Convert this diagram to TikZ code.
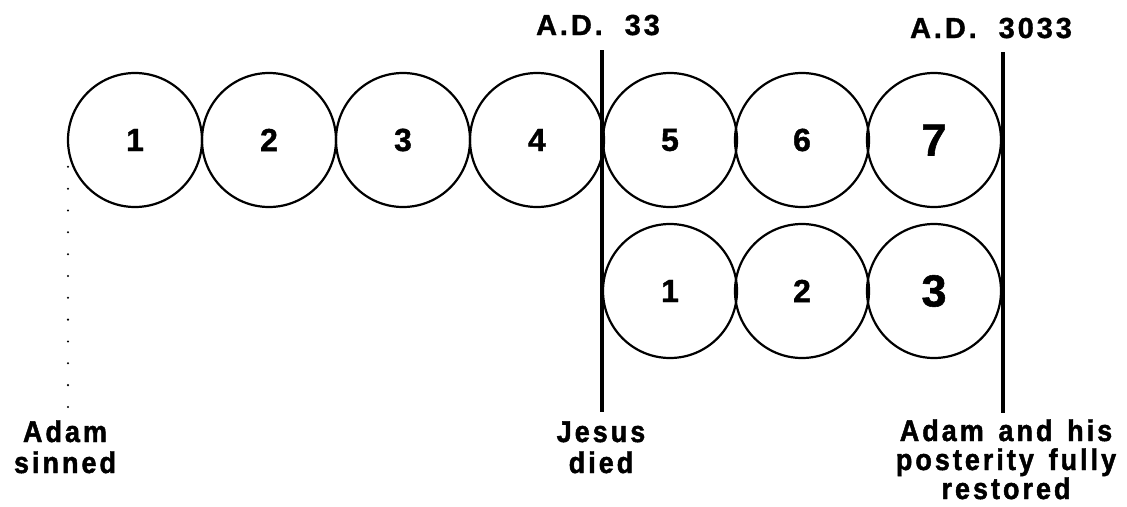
\documentclass[tikz,border=0pt]{standalone}
\usepackage{fontspec}
\setmainfont{Liberation Sans}
\newfontfamily\numfont{Liberation Sans Bold}[FakeBold=1.2]
\newfontfamily\labfont{Liberation Sans Bold}[LetterSpace=10,FakeStretch=0.9,FakeBold=1.5,WordSpace=1.4]
\newfontfamily\topfont{Liberation Sans Bold}[LetterSpace=10,FakeBold=1.2]
\begin{document}
\begin{tikzpicture}[x=1pt,y=-1pt,
  ring/.style={circle,draw,line width=2.2pt,minimum size=134pt,inner sep=0pt,
    font=\numfont\fontsize{32}{32}\selectfont},
  bigring/.style={ring,font=\numfont\fontsize{45}{45}\selectfont},
  bar/.style={line width=4.5pt},
  dots/.style={line width=2.3pt,line cap=round,dash pattern=on 0pt off 21.83pt},
  toplab/.style={anchor=base,inner sep=0pt,font=\topfont\fontsize{29}{29}\selectfont},
  botlab/.style={anchor=base,inner sep=0pt,align=center,font=\labfont\fontsize{30}{31}\selectfont}]
\path[use as bounding box] (0,0) rectangle (1127,506);
% top row
\node[ring] (c1) at (135,140) {1};
\node[ring] (c2) at (269,140) {2};
\node[ring] (c3) at (403,140) {3};
\node[ring] (c4) at (537,140) {4};
\node[ring] (c5) at (670,140) {5};
\node[ring] (c6) at (802,140) {6};
\node[bigring] (c7) at (934,140) {7};
% bottom row
\node[ring] (d1) at (670,291) {1};
\node[ring] (d2) at (802,291) {2};
\node[bigring] (d3) at (934,291) {3};
% bars
\coordinate (b1t) at (602,50);
\coordinate (b1b) at (602,412);
\coordinate (b2t) at (1003,52);
\coordinate (b2b) at (1003,413);
\draw[bar] (b1t) -- (b1b);
\draw[bar] (b2t) -- (b2b);
% dotted line
\coordinate (dt) at (68,145);
\coordinate (db) at (68,408);
\draw[dots] (dt) -- (db);
% labels
\node[toplab] (ad33) at (598,35) {A.D.\ \ 33};
\node[toplab] (ad3033) at (991,38) {A.D.\ \ 3033};
\node[botlab] (adam) at (65,473) {Adam\\sinned};
\node[botlab] (jesus) at (601,473) {Jesus\\died};
\node[botlab,font=\labfont\fontsize{30}{29}\selectfont] (rest) at (1006,499) {Adam and his\\posterity fully\\restored};
\end{tikzpicture}
\end{document}
